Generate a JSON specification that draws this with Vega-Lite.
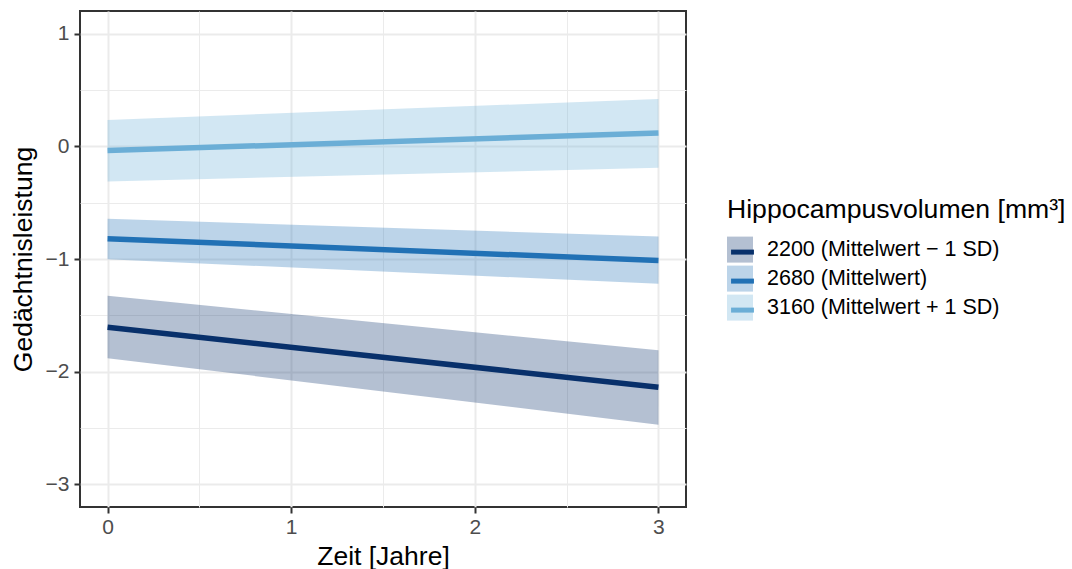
{
  "$schema": "https://vega.github.io/schema/vega-lite/v6.json",
  "width": 606,
  "height": 496,
  "autosize": "none",
  "padding": {"left": 80, "top": 11, "right": 386, "bottom": 62},
  "background": "white",
  "config": {
    "font": "Liberation Sans",
    "view": {"stroke": "#333333", "strokeWidth": 2},
    "axis": {
      "domain": false,
      "gridColor": "#EBEBEB",
      "tickColor": "#333333",
      "tickWidth": 2,
      "tickSize": 6,
      "labelColor": "#4D4D4D",
      "labelFontSize": 21,
      "titleFontSize": 26.5,
      "titleFontWeight": "normal",
      "titleColor": "#000000"
    }
  },
  "data": {
    "values": [
      {"Gruppe": "2200 (Mittelwert − 1 SD)", "Zeit": 0, "fit": -1.606, "lower": -1.88, "upper": -1.327},
      {"Gruppe": "2200 (Mittelwert − 1 SD)", "Zeit": 3, "fit": -2.138, "lower": -2.47, "upper": -1.81},
      {"Gruppe": "2680 (Mittelwert)", "Zeit": 0, "fit": -0.82, "lower": -1.003, "upper": -0.644},
      {"Gruppe": "2680 (Mittelwert)", "Zeit": 3, "fit": -1.014, "lower": -1.22, "upper": -0.80},
      {"Gruppe": "3160 (Mittelwert + 1 SD)", "Zeit": 0, "fit": -0.038, "lower": -0.313, "upper": 0.234},
      {"Gruppe": "3160 (Mittelwert + 1 SD)", "Zeit": 3, "fit": 0.118, "lower": -0.19, "upper": 0.42}
    ]
  },
  "encoding": {
    "x": {
      "field": "Zeit",
      "type": "quantitative",
      "scale": {"domain": [-0.15, 3.15], "nice": false, "zero": false},
      "axis": {
        "title": "Zeit [Jahre]",
        "values": [0, 0.5, 1, 1.5, 2, 2.5, 3],
        "labelExpr": "datum.value % 1 === 0 ? format(datum.value, 'd') : ''",
        "tickOpacity": {"condition": {"test": "datum.value % 1 !== 0", "value": 0}, "value": 1},
        "gridWidth": {"condition": {"test": "datum.value % 1 !== 0", "value": 1}, "value": 2},
        "labelPadding": 3,
        "titlePadding": 6
      }
    }
  },
  "layer": [
    {
      "mark": {"type": "area", "opacity": 0.3},
      "encoding": {
        "y": {
          "field": "lower",
          "type": "quantitative",
          "scale": {"domain": [-3.2, 1.2], "nice": false, "zero": false},
          "axis": {
            "title": "Gedächtnisleistung",
            "values": [-3, -2.5, -2, -1.5, -1, -0.5, 0, 0.5, 1],
            "labelExpr": "datum.value % 1 === 0 ? format(datum.value, 'd') : ''",
            "tickOpacity": {"condition": {"test": "datum.value % 1 !== 0", "value": 0}, "value": 1},
            "gridWidth": {"condition": {"test": "datum.value % 1 !== 0", "value": 1}, "value": 2},
            "labelPadding": 5,
            "titlePadding": 8
          }
        },
        "y2": {"field": "upper"},
        "fill": {
          "field": "Gruppe",
          "type": "nominal",
          "scale": {"range": ["#08306B", "#2171B5", "#6BAED6"]},
          "legend": {
            "title": "Hippocampusvolumen [mm³]",
            "orient": "none",
            "legendX": 647,
            "legendY": 186,
            "symbolType": "square",
            "symbolSize": 676,
            "symbolOpacity": 0.3,
            "symbolStrokeWidth": 0,
            "labelFontSize": 21.5,
            "labelColor": "#000000",
            "labelOffset": 14,
            "labelLimit": 400,
            "titleFontSize": 26.6,
            "titleFontWeight": "normal",
            "titleColor": "#000000",
            "titleLimit": 420,
            "titlePadding": 13,
            "rowPadding": 3,
            "padding": 0
          }
        }
      }
    },
    {
      "mark": {"type": "line", "strokeWidth": 5.5},
      "encoding": {
        "y": {"field": "fit", "type": "quantitative"},
        "stroke": {
          "field": "Gruppe",
          "type": "nominal",
          "scale": {
            "domain": ["2200 (Mittelwert − 1 SD)", "2680 (Mittelwert)", "3160 (Mittelwert + 1 SD)"],
            "range": ["#08306B", "#2171B5", "#6BAED6"]
          },
          "legend": {
            "title": null,
            "orient": "none",
            "legendX": 647,
            "legendY": 225.6,
            "zindex": 1,
            "symbolType": "M-0.88,0L0.88,0",
            "symbolSize": 676,
            "symbolStrokeWidth": 5,
            "symbolFillColor": "transparent",
            "labelExpr": "''",
            "labelFontSize": 21.5,
            "labelOffset": 14,
            "rowPadding": 3,
            "padding": 0
          }
        }
      }
    }
  ]
}
